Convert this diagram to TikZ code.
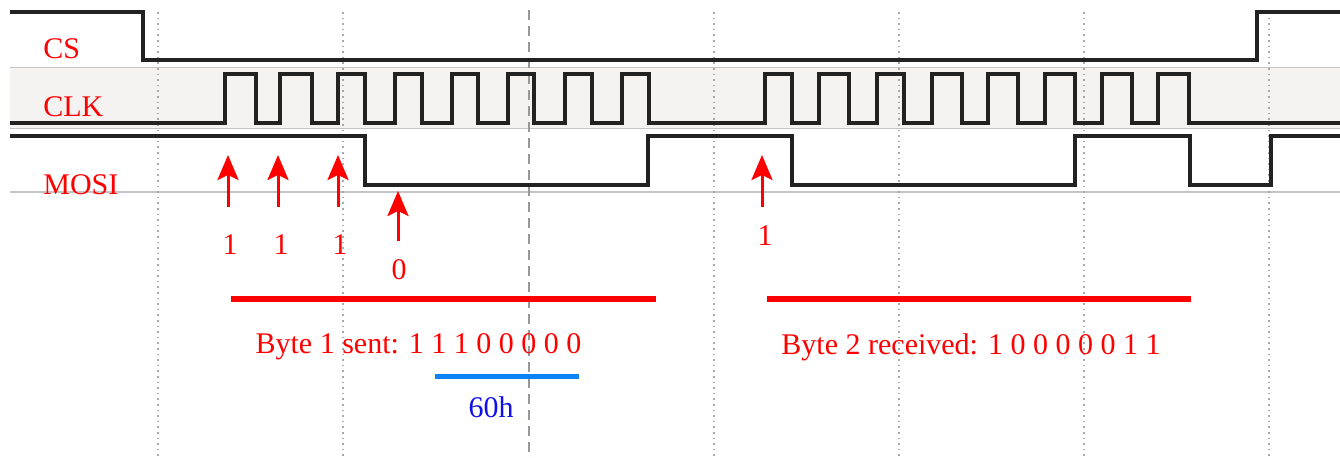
\documentclass[tikz,border=0pt]{standalone}
\usepackage{fontspec}
\setmainfont{Liberation Serif}
\usetikzlibrary{arrows.meta}
\definecolor{sig}{HTML}{222222}
\definecolor{band}{HTML}{F4F3F2}
\definecolor{gridc}{HTML}{A8A8A8}
\definecolor{sepc}{HTML}{C4C4C4}
\definecolor{hexline}{HTML}{0A84F5}
\definecolor{hexblue}{HTML}{1010E8}
\tikzset{
  wave/.style={draw=sig, line width=1.6pt, line join=miter},
  gridline/.style={draw=gridc, line width=0.7pt, dash pattern=on 0.8pt off 2pt},
  midline/.style={draw=gridc!90!black, line width=0.7pt, dash pattern=on 5pt off 3pt},
  sepline/.style={draw=sepc, line width=0.8pt},
  lab/.style={text=red, font=\fontsize{15pt}{17pt}\selectfont, inner sep=0pt},
  sig label/.style={lab, anchor=west},
  samplearrow/.style={draw=red, line width=1.5pt, -{Stealth[width=10.5pt,length=12.5pt,inset=2.5pt]}},
  bytebar/.style={draw=red, line width=2.6pt},
  hexbar/.style={draw=hexline, line width=2.6pt},
}
\begin{document}
\begin{tikzpicture}[x=0.5pt, y=-0.5pt]
\useasboundingbox (0,0) rectangle (1340,458);
% CLK band
\fill[band] (10,67.5) rectangle (1340,128.5);
\draw[sepline] (10,67.5) -- (1340,67.5);
\draw[sepline] (10,128.5) -- (1340,128.5);
\draw[sepline] (10,192) -- (1340,192);
% grid
\foreach \gx in {158,343,714,899,1084,1269}
  \draw[gridline] (\gx,12) -- (\gx,458);
\draw[midline] (529,10) -- (529,458);
% CS
\draw[wave] (10,12) -- (143,12) -- (143,60) -- (1257,60) -- (1257,12) -- (1341,12);
% CLK
\draw[wave] (10,123)
  \foreach \r/\f in {225/256,280/312,338/365,395/422,452/478,508/534,565/592,622/649,
                     765/792,819/849,877/904,932/962,988/1018,1045/1075,1102/1132,1158/1189}
  { -- (\r,123) -- (\r,74) -- (\f,74) -- (\f,123) } -- (1341,123);
% MOSI
\draw[wave] (10,136) -- (365,136) -- (365,185) -- (648,185) -- (648,136)
  -- (792,136) -- (792,185) -- (1075,185) -- (1075,136) -- (1190,136)
  -- (1190,185) -- (1271,185) -- (1271,136) -- (1341,136);
% signal names
\node[sig label] (cs)   at (43,49)  {CS};
\node[sig label] (clk)  at (43,107) {CLK};
\node[sig label] (mosi) at (43,185) {MOSI};
% sample arrows
\foreach \n/\ax/\by/\ty in {a/228/207/155, b/278/207/155, c/338/207/155, d/398/241/191, e/762/207/155}{
  \coordinate (\n0) at (\ax,\by);
  \coordinate (\n1) at (\ax,\ty);
  \draw[samplearrow] (\n0) -- (\n1);
}
\node[lab] (bit1) at (230,245) {1};
\node[lab] (bit2) at (281,245) {1};
\node[lab] (bit3) at (340,245) {1};
\node[lab] (bit4) at (399,270) {0};
\node[lab] (bit5) at (765,236) {1};
% byte bars
\coordinate (b1s) at (231,299);
\coordinate (b1e) at (656,299);
\draw[bytebar] (b1s) -- (b1e);
\coordinate (b2s) at (767,299);
\coordinate (b2e) at (1191,299);
\draw[bytebar] (b2s) -- (b2e);
\node[lab] (byte1) at (418.5,347) {Byte 1 sent: 1 1 1 0 0 0 0 0};
\node[lab] (byte2) at (971,347) {Byte 2 received: 1 0 0 0 0 0 1 1};
% hex
\coordinate (h1) at (435,376.5);
\coordinate (h2) at (579,376.5);
\draw[hexbar] (h1) -- (h2);
\node[lab, text=hexblue] (hex) at (491,407) {60h};
\end{tikzpicture}
\end{document}
